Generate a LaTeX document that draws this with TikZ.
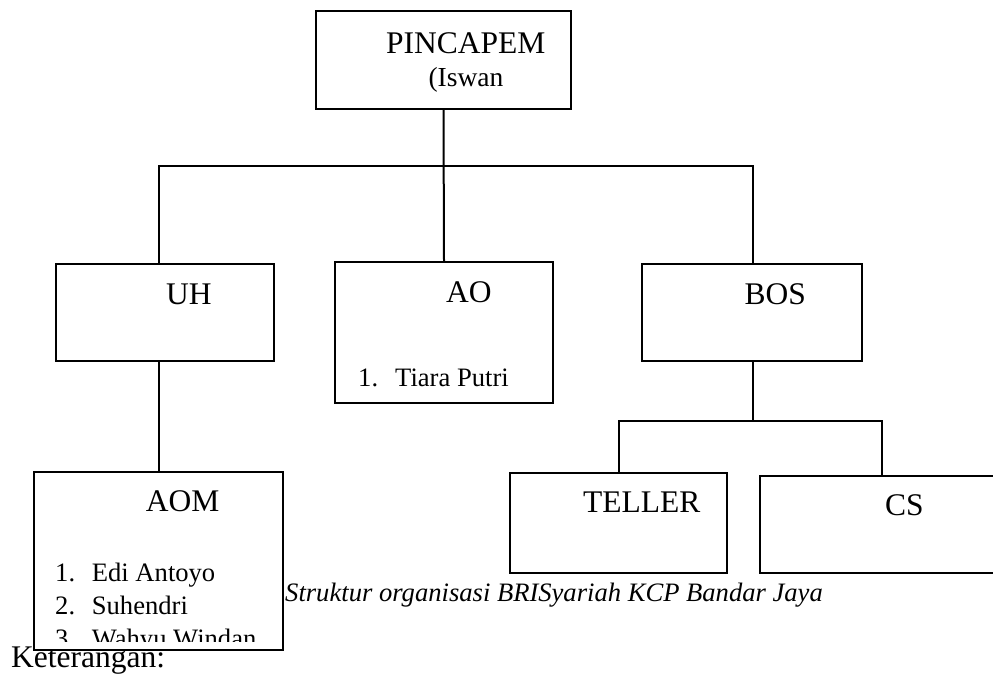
\documentclass[tikz,border=0pt]{standalone}
\usepackage{fontspec}
\setmainfont{Liberation Serif}
\newcommand\labfont{\fontsize{31.5}{36}\selectfont}
\newcommand\lstfont{\fontsize{26.6}{33}\selectfont}
\newcommand\iswfont{\fontsize{27.5}{33}\selectfont}
\begin{document}
\begin{tikzpicture}[x=1pt,y=-1pt,
  box/.style={draw, line width=2pt, rectangle, inner sep=0pt, fill=white},
  txt/.style={inner sep=0pt, anchor=base west},
  conn/.style={line width=2pt}]
\useasboundingbox (0,0) rectangle (993,673);
\begin{scope}
\clip (0,0) rectangle (993,673);
% boxes
\node[box, minimum width=255pt, minimum height=98pt] (pin) at (443.5,60) {};
\node[box, minimum width=218pt, minimum height=97pt] (uh) at (165,312.5) {};
\node[box, minimum width=218pt, minimum height=141pt] (ao) at (444,332.5) {};
\node[box, minimum width=220pt, minimum height=97pt] (bos) at (752,312.5) {};
\node[box, minimum width=217pt, minimum height=100pt] (teller) at (618.5,523) {};
\node[box, minimum width=240pt, minimum height=97pt] (cs) at (880,524.5) {};
\node[txt] (ket) at (11,667) {\labfont Keterangan:};
\node[box, minimum width=249pt, minimum height=178pt] (aom) at (158.5,561) {};
% connectors
\coordinate (busL) at (158.7,166);
\coordinate (busR) at (753.3,166);
\coordinate (sub) at (753.3,421);
\coordinate (csx) at (881.7,476);
\draw[conn] (pin.south) -- (ao.north);
\draw[conn] (uh.north -| busL) -- (busL) -- (busR) -- (bos.north -| busR);
\draw[conn] (aom.north |- uh.south) -- (aom.north);
\draw[conn] (bos.south -| sub) -- (sub);
\draw[conn] (teller.north) |- (sub) -| (csx);
% texts
\node[txt] (pinT) at (386,53.3) {\labfont PINCAPEM};
\node[txt] (pinS) at (428.3,86.7) {\iswfont (Iswan};
\node[txt] (uhT) at (166,304) {\labfont UH};
\node[txt] (aoT) at (446,302) {\labfont AO};
\node[txt] (bosT) at (744.3,304) {\labfont BOS};
\node[txt] (aoN) at (358,386.7) {\lstfont 1.};
\node[txt] (aoL) at (395,386.7) {\lstfont Tiara Putri};
\node[txt] (telT) at (583,512.5) {\labfont TELLER};
\node[txt] (csT) at (885,515) {\labfont CS};
\node[txt] (aomT) at (145.7,511.7) {\labfont AOM};
\begin{scope}
\clip (36,474) rectangle (281,641.5);
\node[txt] (n1) at (55,581.5) {\lstfont 1.};
\node[txt] (l1) at (91.7,581.5) {\lstfont Edi Antoyo};
\node[txt] (n2) at (55,614.5) {\lstfont 2.};
\node[txt] (l2) at (91.7,614.5) {\lstfont Suhendri};
\node[txt] (n3) at (55,647.5) {\lstfont 3.};
\node[txt] (l3) at (91.7,647.5) {\lstfont Wahyu Windan};
\end{scope}
\node[txt] (cap) at (285,601.5) {\lstfont\itshape Struktur organisasi BRISyariah KCP Bandar Jaya};
\end{scope}
\end{tikzpicture}
\end{document}
